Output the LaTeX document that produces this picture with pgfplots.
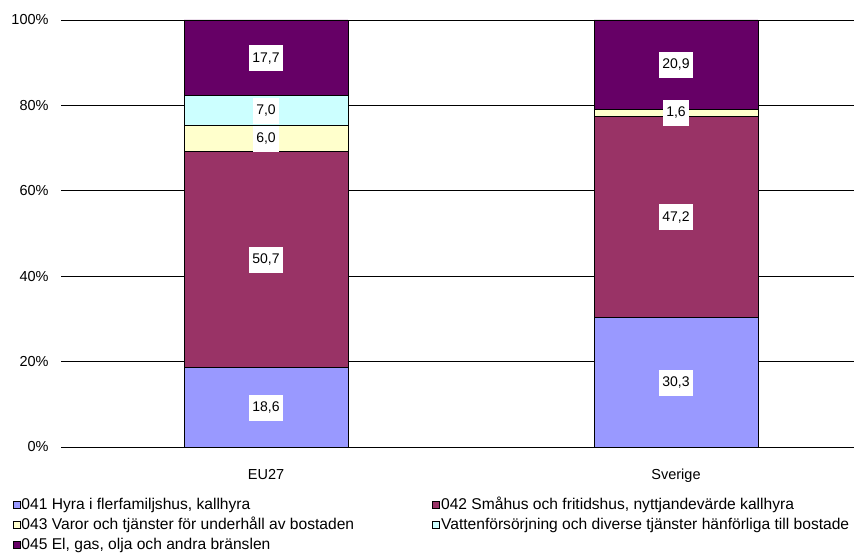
\documentclass[border=0pt]{standalone}
\usepackage{fontspec}
\setmainfont{Liberation Sans}
\usepackage{pgfplots}
\usepackage{pgfplotstable}
\pgfplotsset{compat=1.18}
\definecolor{c1}{HTML}{9999FF}
\definecolor{c2}{HTML}{993366}
\definecolor{c3}{HTML}{FFFFCC}
\definecolor{c4}{HTML}{CCFFFF}
\definecolor{c5}{HTML}{660066}
\pgfplotstableread{
x a b c d e
0 18.6 50.7 6.0 7.0 17.7
1 30.3 47.2 1.6 0.0 20.9
}\data
\newcommand\lbl{%
  \pgfkeys{/pgf/fpu=true,/pgf/fpu/output format=fixed}%
  \pgfmathparse{\pgfplotspointmeta}\let\myv\pgfmathresult
  \pgfkeys{/pgf/fpu=false}%
  \ifdim\myv pt>0.01pt\relax
    \raisebox{-5bp}[0pt][0pt]{\setlength\fboxsep{0pt}\colorbox{white}{\hspace{3.5bp}\rule[-9.3bp]{0pt}{26bp}\pgfmathprintnumber[fixed,fixed zerofill,precision=1,use comma,assume math mode=true]{\myv}\hspace{3.5bp}}}%
  \fi}
\pgfplotsset{common/.style={
  at={(0,0)}, anchor=south west,
  x=410bp, y=4.27bp,
  xmin=-0.5, xmax=1.4341, ymin=0, ymax=100}}
\begin{document}
\begin{tikzpicture}
\begin{axis}[
  common,
  ybar stacked, bar width=164bp,
  legend image code/.code={\draw[#1,draw=black,line width=0.6bp] (0bp,-3.5bp) rectangle (7bp,3.5bp);},
  axis x line*=bottom, axis y line*=left,
  y axis line style={draw=none},
  x axis line style={black, line width=0.7bp},
  tick align=outside,
  ytick={0,20,40,60,80,100},
  yticklabel={\pgfmathprintnumber{\tick}\%},
  ytick style={draw=none},
  xtick={0,1}, xticklabels={EU27,Sverige},
  xtick style={draw=none},
  extra x ticks={-0.5,0.5},
  extra x tick labels={},
  extra x tick style={major tick length=5bp, tick style={draw=black, line width=0.7bp}},
  /pgf/number format/assume math mode=true,
  ticklabel style={font=\fontsize{14.5bp}{16bp}\selectfont},
  yticklabel style={anchor=east, inner sep=0pt, xshift=-8bp},
  xticklabel style={anchor=base, inner sep=0pt, yshift=-28bp},
  ymajorgrids, grid style={black, line width=0.6bp},
  legend columns=2,
  legend cell align=left,
  legend style={at={(0,0)}, anchor=north west, xshift=-48.3bp, yshift=-48bp, draw=none, fill=none, inner sep=0pt, column sep=0pt, row sep=0pt,
    nodes={inner sep=0pt, text height=14.65bp, text depth=5.35bp, font=\fontsize{15.6bp}{17bp}\selectfont}},
]
\addplot[fill=c1, draw=black, line width=0.7bp] table[x=x,y=a] {\data};
\addlegendentry{\makebox[412bp][l]{\hspace{1bp}041 Hyra i flerfamiljshus, kallhyra}}
\addplot[fill=c2, draw=black, line width=0.7bp] table[x=x,y=b] {\data};
\addlegendentry{\hspace{1bp}042 Småhus och fritidshus, nyttjandevärde kallhyra}
\addplot[fill=c3, draw=black, line width=0.7bp] table[x=x,y=c] {\data};
\addlegendentry{\makebox[412bp][l]{\hspace{1bp}043 Varor och tjänster för underhåll av bostaden}}
\addplot[fill=c4, draw=black, line width=0.7bp] table[x=x,y=d] {\data};
\addlegendentry{\hspace{1bp}Vattenförsörjning och diverse tjänster hänförliga till bostade}
\addplot[fill=c5, draw=black, line width=0.7bp] table[x=x,y=e] {\data};
\addlegendentry{\makebox[412bp][l]{\hspace{1bp}045 El, gas, olja och andra bränslen}}
\end{axis}
\begin{axis}[
  common, hide axis, clip=false,
  point meta=explicit,
  nodes near coords={\lbl},
  every node near coord/.append style={inner sep=0pt, font=\fontsize{14bp}{16bp}\selectfont},
]
\pgfplotsset{lblplot/.style={only marks, mark=text, text mark={}}}
\addplot[lblplot] table[x=x, y expr={0.5*\thisrow{a}}, meta=a] {\data};
\addplot[lblplot] table[x=x, y expr={\thisrow{a}+0.5*\thisrow{b}}, meta=b] {\data};
\addplot[lblplot] table[x=x, y expr={\thisrow{a}+\thisrow{b}+0.5*\thisrow{c}}, meta=c] {\data};
\addplot[lblplot] table[x=x, y expr={\thisrow{a}+\thisrow{b}+\thisrow{c}+0.5*\thisrow{d}}, meta=d] {\data};
\addplot[lblplot] table[x=x, y expr={\thisrow{a}+\thisrow{b}+\thisrow{c}+\thisrow{d}+0.5*\thisrow{e}}, meta=e] {\data};
\end{axis}
\pgfresetboundingbox
\path (-61bp,-107bp) rectangle (793bp,447bp);
\end{tikzpicture}
\end{document}
